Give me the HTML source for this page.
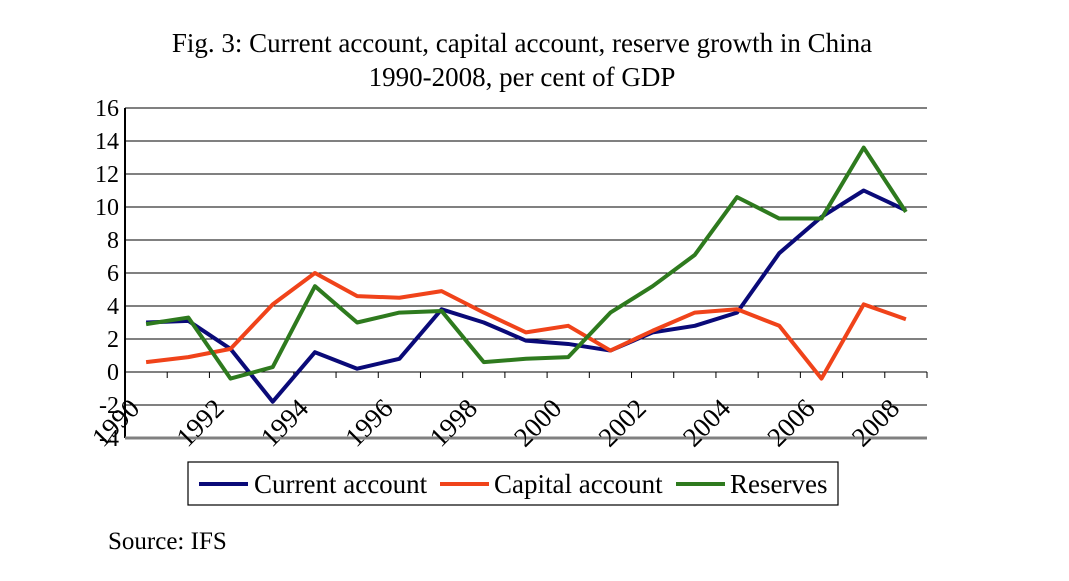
<!DOCTYPE html>
<html><head><meta charset="utf-8"><style>
html,body{margin:0;padding:0;background:#fff;}
svg{display:block;font-family:"Liberation Serif",serif;}
</style></head><body>
<svg id="c" width="1069" height="581" viewBox="0 0 1069 581">
<text x="522" y="52" font-size="27" text-anchor="middle">Fig. 3: Current account, capital account, reserve growth in China</text>
<text x="522" y="86" font-size="27" text-anchor="middle">1990-2008, per cent of GDP</text>
<g id="grid"></g><g id="series"></g><g id="labels"></g>
<rect x="188" y="462" width="650" height="43" fill="none" stroke="#000" stroke-width="1.2"/>
<g><line x1="199" y1="484" x2="248" y2="484" stroke="#0a0a78" stroke-width="4"/><text x="254" y="493" font-size="27">Current account</text></g>
<g><line x1="440" y1="484" x2="489" y2="484" stroke="#f0431a" stroke-width="4"/><text x="494" y="493" font-size="27">Capital account</text></g>
<g><line x1="676" y1="484" x2="725" y2="484" stroke="#2e7a1e" stroke-width="4"/><text x="730" y="493" font-size="27">Reserves</text></g>
<text x="108" y="549" font-size="25">Source: IFS</text>
</svg>
<script>
const years=["1990","1991","1992","1993","1994","1995","1996","1997","1998","1999","2000","2001","2002","2003","2004","2005","2006","2007","2008"];
const currentAccount=[3.0,3.1,1.4,-1.8,1.2,0.2,0.8,3.8,3.0,1.9,1.7,1.3,2.4,2.8,3.6,7.2,9.4,11.0,9.8];
const capitalAccount=[0.6,0.9,1.4,4.1,6.0,4.6,4.5,4.9,3.6,2.4,2.8,1.3,2.5,3.6,3.8,2.8,-0.4,4.1,3.2];
const reserves=[2.9,3.3,-0.4,0.3,5.2,3.0,3.6,3.7,0.6,0.8,0.9,3.6,5.2,7.1,10.6,9.3,9.3,13.6,9.7];
const yTicks=[-4,-2,0,2,4,6,8,10,12,14,16];
const NS="http://www.w3.org/2000/svg";
const L=125,R=927,T=108,B=438,ymin=-4,ymax=16;
const bw=(R-L)/years.length;
const x=i=>L+bw*(i+0.5);
const y=v=>B-(v-ymin)/(ymax-ymin)*(B-T);
function mk(tag,attrs,parent){const e=document.createElementNS(NS,tag);for(const k in attrs)e.setAttribute(k,attrs[k]);parent.appendChild(e);return e;}
const grid=document.getElementById('grid'),ser=document.getElementById('series'),lab=document.getElementById('labels');
yTicks.forEach(v=>{
  const g=mk('line',{x1:L,x2:R,y1:y(v),y2:y(v),stroke:'#000','stroke-width':1},grid);
  
  
  const t=mk('text',{x:L-6,y:y(v)+8,'font-size':24,'text-anchor':'end'},lab);
  t.textContent=v;
  
  
});
const ax=mk('line',{x1:L,x2:L,y1:T,y2:B,stroke:'#000','stroke-width':2},grid);


const bot=mk('line',{x1:L,x2:R,y1:B,y2:B,stroke:'#808080','stroke-width':3},grid);


for(let k=1;k<=years.length;k++){
  const tk=mk('line',{x1:L+bw*k,x2:L+bw*k,y1:y(0),y2:y(0)+6,stroke:'#000','stroke-width':1},grid);
  
  
}
years.forEach((yr,i)=>{
  if(i%2)return;
  const px=x(i)-5,py=410;
  const t=mk('text',{x:px,y:py,'font-size':27,'text-anchor':'end',transform:`rotate(-45 ${px} ${py})`},lab);
  t.textContent=yr;
  
  
});
[[currentAccount,'#0a0a78','current-account-line'],[capitalAccount,'#f0431a','capital-account-line'],[reserves,'#2e7a1e','reserves-line']].forEach(([d,c,n])=>{
  const p=mk('polyline',{points:d.map((v,i)=>x(i)+','+y(v)).join(' '),fill:'none',stroke:c,'stroke-width':4,'stroke-linejoin':'round'},ser);
  
  
});
</script>
</body></html>
